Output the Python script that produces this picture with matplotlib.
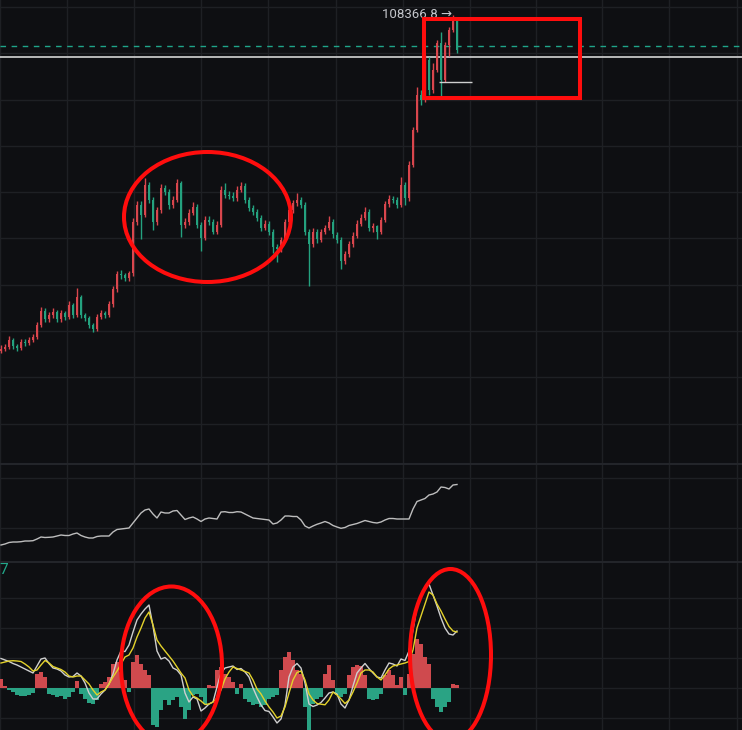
import matplotlib
matplotlib.use("Agg")
import matplotlib.pyplot as plt
from matplotlib.patches import Ellipse, Rectangle
import numpy as np

# ---------------- data ----------------
first_open = 35700
close = [36130, 36560, 38070, 36780, 36350, 37640, 37420, 38070, 38710, 41290,
         44300, 42580, 43440, 44090, 42580, 43870, 43010, 45590, 43440, 47310,
         43440, 42800, 41290, 40430, 43010, 43870, 43440, 45810, 49030, 52260,
         52040, 51400, 52470, 63650, 67310, 65160, 71610, 68380, 63650, 66230,
         70960, 70100, 67310, 68380, 72040, 63010, 63650, 65580, 66880, 63010,
         60210, 64080, 63650, 61500, 63010, 70530, 69460, 69240, 68810, 70530,
         71390, 68380, 66660, 65800, 64510, 62360, 63220, 61500, 58060, 57630,
         59780, 63650, 66230, 67740, 68380, 67310, 61500, 58710, 61500, 59780,
         61500, 62360, 63650, 60860, 59780, 55050, 56560, 58710, 60640, 63220,
         64510, 65800, 62360, 62600, 61500, 64080, 67520, 68600, 68380, 67310,
         71610, 68810, 75910, 83430, 90960, 89880, 98480, 92030, 96330, 102140,
         94180, 101710, 104930, 107510, 100630]
high = [36900, 37200, 38900, 38600, 37300, 38200, 38300, 38700, 39400, 41900,
        45100, 44900, 44200, 44900, 44600, 44500, 44400, 46400, 46000, 49400,
        47800, 44000, 43300, 41800, 43600, 44500, 44400, 46400, 49700, 53000,
        53100, 52600, 53000, 64400, 68200, 68000, 73100, 72300, 68900, 66900,
        71700, 71600, 70700, 69200, 72900, 72500, 64500, 66400, 67800, 67400,
        63600, 64800, 64900, 64200, 63700, 71300, 72000, 70200, 70000, 71300,
        72300, 71900, 68900, 67200, 66300, 65000, 63900, 63800, 62000, 58800,
        60400, 64300, 66900, 68400, 69900, 69000, 67900, 62100, 62200, 62000,
        62100, 63000, 64800, 64200, 61500, 60300, 57200, 59400, 61300, 63900,
        65300, 66700, 66400, 63400, 62900, 64700, 68200, 69300, 69200, 69000,
        73300, 72200, 76800, 84100, 92700, 92000, 99600, 99100, 98000, 102800,
        104700, 102400, 105600, 108366.8, 107900]
low = [35200, 35600, 36100, 36200, 35700, 35900, 36800, 36900, 37600, 38200,
       40800, 41900, 42000, 42900, 41900, 42000, 42300, 42500, 42800, 43000,
       42900, 42100, 40700, 39700, 40000, 42500, 42800, 43000, 45300, 48500,
       51300, 50800, 50900, 52000, 63000, 59800, 64600, 67600, 61900, 63000,
       65600, 69300, 66400, 66600, 67800, 60400, 62200, 63000, 65000, 62300,
       57200, 59600, 62900, 60900, 60900, 62500, 68700, 68500, 68000, 68200,
       70000, 67700, 66000, 65100, 63800, 61700, 61800, 60800, 56800, 55000,
       57000, 59200, 63100, 65600, 67100, 66600, 60800, 49700, 58100, 59100,
       59200, 60900, 61800, 60200, 59000, 53300, 54400, 56000, 58100, 60000,
       62700, 63900, 61700, 61400, 59800, 60900, 63500, 66900, 67600, 66500,
       66800, 67300, 68200, 75500, 83000, 88800, 89400, 91000, 91400, 95900,
       90700, 93700, 99500, 104500, 100000]

obv = [170, 180, 195, 200, 200, 203, 210, 210, 213, 230,
       250, 245, 247, 250, 260, 270, 265, 265, 280, 290,
       265, 250, 240, 240, 255, 260, 260, 260, 300, 325,
       330, 335, 340, 390, 440, 490, 520, 530, 480, 440,
       500, 490, 490, 510, 515, 470, 425, 440, 450, 430,
       405, 430, 440, 435, 430, 500, 503, 495, 495, 503,
       500, 480, 460, 440, 435, 430, 425, 420, 380, 390,
       420, 460, 460, 455, 455, 420, 360, 340, 360, 377,
       390, 405, 390, 365, 350, 337, 345, 365, 375, 385,
       400, 415, 405, 395, 390, 400, 420, 435, 435, 430,
       430, 430, 430, 530, 605, 620, 635, 670, 680, 700,
       750, 745, 730, 770, 775]

dif = [1475, 1400, 1325, 1225, 1150, 1050, 950, 850, 750, 1100,
       1450, 1500, 1225, 1000, 950, 850, 650, 550, 575, 750,
       600, 250, -250, -550, -550, -300, -100, 200, 700, 1400,
       1850, 1825, 2150, 2800, 3400, 3700, 3950, 4150, 3100, 1850,
       1450, 1525, 1350, 1000, 900, 650, -250, -700, -450, -550,
       -1150, -1000, -800, -700, 50, 750, 1000, 1050, 1100, 925,
       975, 800, 550, 0, -450, -850, -1125, -1175, -1450, -1750,
       -1550, -850, 550, 1050, 1225, 1000, 250, -800, -925, -850,
       -725, -500, -250, -200, -300, -800, -1000, -600, 100, 750,
       1000, 1225, 975, 750, 550, 500, 900, 1250, 1200, 1100,
       1450, 1375, 1850, 2900, 4100, 4650, 5000, 5200, 4650, 4100,
       3500, 3000, 2700, 2650, 2850]
dea = [1250, 1300, 1350, 1365, 1350, 1325, 1200, 1050, 850, 900,
       1150, 1375, 1250, 1075, 1000, 925, 800, 600, 550, 600,
       600, 400, 200, -100, -350, -200, -100, 200, 550, 850,
       1200, 1550, 1650, 2000, 2550, 3000, 3500, 3800, 3150, 2400,
       2100, 1850, 1600, 1350, 1050, 750, 500, -100, -400, -500,
       -650, -825, -800, -700, -500, -100, 450, 800, 1050, 975,
       900, 825, 750, 400, -50, -300, -650, -950, -1200, -1500,
       -1400, -950, -250, 400, 775, 850, 400, -300, -600, -775,
       -810, -840, -600, -200, -350, -550, -775, -600, -200, 250,
       750, 900, 900, 800, 550, 400, 650, 950, 1100, 1150,
       1200, 1250, 1325, 1900, 3000, 3600, 4200, 4800, 4650, 4200,
       3850, 3450, 3075, 2850, 2800]
hist = [465, 100, -115, -200, -365, -415, -415, -365, -250, 715,
        800, 550, -285, -365, -450, -415, -535, -450, -200, 350,
        -285, -535, -750, -785, -615, 215, 300, 550, 1215, 1300,
        800, 385, -200, 1300, 1635, 1215, 885, 635, -1865, -1950,
        -1115, -615, -865, -615, -450, -950, -1535, -1115, -365, -285,
        -450, -785, 135, 85, 885, 1050, 715, 550, 300, -285,
        215, -535, -700, -865, -815, -950, -865, -535, -450, -365,
        885, 1550, 1800, 1385, 885, 715, -950, -2115, -785, -535,
        -450, 715, 1135, 385, -365, -450, -285, 635, 1050, 1135,
        1085, 635, -535, -615, -535, -285, 635, 885, 635, 135,
        550, -365, 715, 1715, 2465, 2215, 1550, 1215, -535, -950,
        -1200, -950, -700, 185, 135]

price_levels = {"cyan_dash": 101580, "white_line": 99140, "white_short": 93730}

# ---------------- style ----------------
W, H = 742, 730
BG = "#0e0f12"
GRID = "#1e2024"
UP = "#d9464d"
DOWN = "#24a27f"
HUP = "#cf4a4e"
HDOWN = "#2aa384"

fig = plt.figure(figsize=(W / 100, H / 100), dpi=100, facecolor=BG)

def axes_px(top, bottom):
    return fig.add_axes([0, (H - bottom) / H, 1, (bottom - top) / H])

ax1 = axes_px(0, 464)
ax2 = axes_px(464, 562)
ax3 = axes_px(562, 730)

n = len(close)
x = np.arange(n)
opn = [first_open] + close[:-1]
xlim = (-0.25, W / 4 - 0.25)
vgrid_px = [0, 67, 134, 201, 268, 336, 403, 470, 536, 602, 669, 737]
vgrid = [(p - 1) / 4 for p in vgrid_px]

for ax in (ax1, ax2, ax3):
    ax.set_facecolor(BG)
    ax.set_xlim(*xlim)
    for s in ax.spines.values():
        s.set_visible(False)
    ax.set_xticks([])
    ax.set_yticks([])
    for v in vgrid:
        ax.axvline(v, color=GRID, lw=1.0, zorder=0)

# ---- price panel ----
ax1.set_ylim(111512 - 464 * 216, 111512)
for lvl in range(20000, 120000, 10000):
    ax1.axhline(lvl, color=GRID, lw=1.0, zorder=0)
cols = [UP if c >= o else DOWN for o, c in zip(opn, close)]
ax1.vlines(x, low, high, colors=cols, lw=1.0, zorder=3)
ax1.bar(x, np.array(close) - np.array(opn), bottom=opn, width=0.7,
        color=cols, zorder=3, linewidth=0)
ax1.axhline(price_levels["cyan_dash"], color="#1fa58a", lw=1.0,
            dashes=(4, 4), zorder=2)
ax1.axhline(price_levels["white_line"], color="#d4d4d4", lw=1.2, zorder=2)
ax1.hlines(price_levels["white_short"], 109.5, 117.75, color="#cfcfcf",
           lw=1.0, zorder=4)
imax = int(np.argmax(high))
ax1.text(imax - 0.3, high[imax], f"{high[imax]:.1f} \u2192", ha="right",
         va="center", color="#c4c6cb", fontsize=9.5,
         family=["Roboto", "DejaVu Sans"], zorder=5)

# ---- OBV panel ----
ax2.set_ylim(0, 980)
for lvl in (337, 837):
    ax2.axhline(lvl, color=GRID, lw=1.0, zorder=0)
ax2.plot(x, obv, color="#bdbdbd", lw=1.0, zorder=3)

# ---- MACD panel ----
ax3.set_ylim(-2100, 6300)
for lvl in (-1500, 0, 1500, 3000, 4500):
    ax3.axhline(lvl, color=GRID, lw=1.0, zorder=0)
hcols = [HUP if h >= 0 else HDOWN for h in hist]
ax3.bar(x, hist, width=1.0, color=hcols, zorder=2, linewidth=0,
        antialiased=False)
ax3.plot(x, dif, color="#cfcfcf", lw=1.0, zorder=3)
ax3.plot(x, dea, color="#e3d22b", lw=1.0, zorder=4)

# ---- overlay: separators, annotations ----
ov = fig.add_axes([0, 0, 1, 1], facecolor="none")
ov.set_xlim(0, W)
ov.set_ylim(H, 0)
ov.axis("off")
for yy in (464, 562):
    ov.axhline(yy, color="#23252a", lw=1.5)
ov.text(-1, 570, "7", color="#22a88a", fontsize=11, va="center", ha="left",
        family=["Roboto", "DejaVu Sans"])
RED = "#ff0d0d"
LW = 2.9
ov.add_patch(Ellipse((207.5, 217), 167, 130, fill=False, ec=RED, lw=LW))
ov.add_patch(Rectangle((423.5, 18.7), 156, 78.8, fill=False, ec=RED, lw=LW))
ov.add_patch(Ellipse((171.5, 665.5), 101, 158, fill=False, ec=RED, lw=LW))
ov.add_patch(Ellipse((450.5, 655), 81, 172, fill=False, ec=RED, lw=LW))

fig.savefig("out.png", dpi=100, facecolor=BG)
